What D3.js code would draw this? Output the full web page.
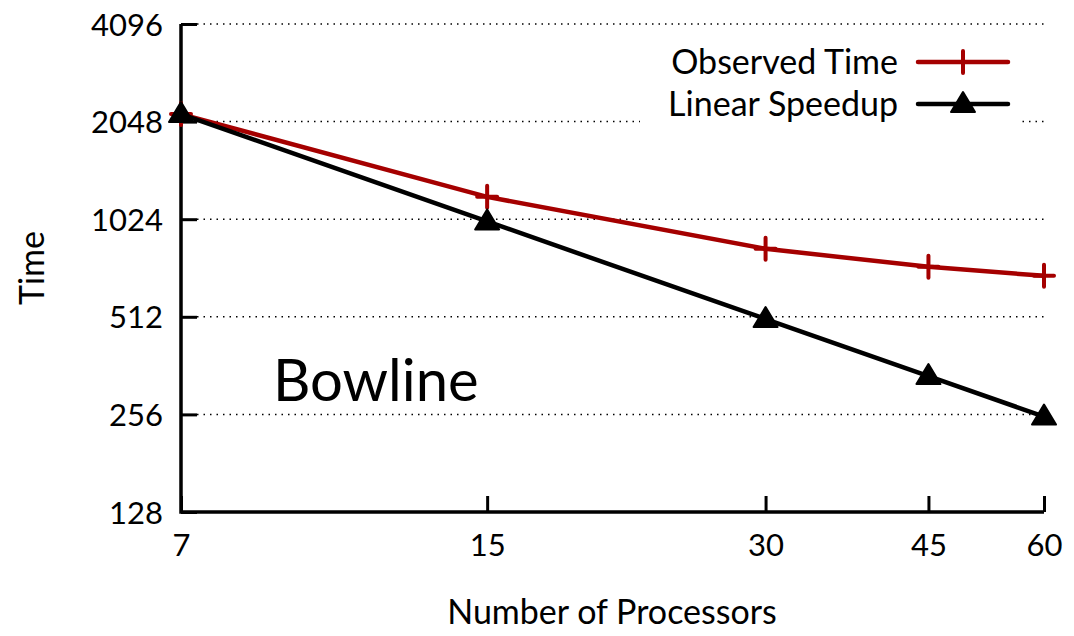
<!DOCTYPE html>
<html>
<head>
<meta charset="utf-8">
<script src="https://cdn.jsdelivr.net/npm/d3@7"></script>
<style>
  body { margin: 0; background: #fff; }
  svg, svg text { font-family: Lato, "Open Sans", sans-serif; }
  svg { display: block; }
</style>
</head>
<body>
<div id="chart"></div>
<script>
// canvas size
let svg_width = 1074;
let svg_height = 636;

// data
let processors = [7, 15, 30, 45, 60];
let observed_time = [2160, 1200, 830, 730, 685];
let linear_speedup = [2160, 1008, 504, 336, 252];
let y_ticks = [128, 256, 512, 1024, 2048, 4096];
let series_names = ["Observed Time", "Linear Speedup"];

let margin = { left: 181, right: 30, top: 24, bottom: 124 };

// scales
let x_scale = d3.scaleLog()
                .domain([7, 60])
                .range([margin.left, svg_width - margin.right]);

let y_scale = d3.scaleLog()
                .base(2)
                .domain([128, 4096])
                .range([svg_height - margin.bottom, margin.top]);

let svg = d3.select('#chart')
            .append('svg')
            .attr('width', svg_width)
            .attr('height', svg_height);

let x0 = x_scale.range()[0], x1 = x_scale.range()[1];
let yb = y_scale.range()[0], yt = y_scale.range()[1];

// dotted grid lines
svg.append('g')
    .selectAll('line')
    .data(y_ticks.filter(d => d > 128))
    .enter()
    .append('line')
    .attr('x1', x0 + 16)
    .attr('x2', x1)
    .attr('y1', d => y_scale(d))
    .attr('y2', d => y_scale(d))
    .attr('stroke', '#000')
    .attr('stroke-width', 1.5)
    .attr('stroke-dasharray', '1.5,5');

// axes with inward ticks
let y_axis = d3.axisLeft(y_scale)
                .tickValues(y_ticks)
                .tickFormat(d3.format('d'))
                .tickSize(-16)
                .tickPadding(18);

let x_axis = d3.axisBottom(x_scale)
                .tickValues(processors)
                .tickFormat(d3.format('d'))
                .tickSize(-16)
                .tickPadding(22);

let gy = svg.append('g')
            .attr('transform', 'translate(' + x0 + ',0)')
            .call(y_axis);

let gx = svg.append('g')
            .attr('transform', 'translate(0,' + yb + ')')
            .call(x_axis);

[gx, gy].forEach(function(g) {
    g.attr('font-family', null);
    g.select('.domain').remove();
    g.selectAll('.tick line').attr('stroke', '#000').attr('stroke-width', 3);
    g.selectAll('.tick text')
        .attr('font-size', 31)
        .attr('fill', '#000');
});
gy.selectAll('.tick text').attr('dy', '0.36em');
gx.selectAll('.tick text').attr('dy', '0.71em');

// L-shaped frame
svg.append('path')
    .attr('d', 'M' + x0 + ',' + yt + 'V' + yb + 'H' + x1)
    .attr('fill', 'none')
    .attr('stroke', '#000')
    .attr('stroke-width', 3.5);

// axis titles
svg.append('text')
    .attr('x', 612)
    .attr('y', 624)
    .attr('text-anchor', 'middle')
    .attr('font-size', 34)
    .text('Number of Processors');

svg.append('text')
    .attr('transform', 'translate(44,' + 268 + ') rotate(-90)')
    .attr('text-anchor', 'middle')
    .attr('font-size', 34)
    .text('Time');

svg.append('text')
    .attr('x', 273)
    .attr('y', 401)
    .attr('font-size', 58)
    .text('Bowline');

// legend background hides grid
svg.append('rect')
    .attr('x', 640)
    .attr('y', 40)
    .attr('width', 382)
    .attr('height', 88)
    .attr('fill', '#fff');

let red = '#a50000';
let line = d3.line()
            .x(d => x_scale(d[0]))
            .y(d => y_scale(d[1]));

let obs_pts = d3.zip(processors, observed_time);
let lin_pts = d3.zip(processors, linear_speedup);

function triangle(g, cx, cy) {
    g.append('path')
        .attr('d', 'M' + cx + ',' + (cy - 12) + 'L' + (cx + 12) + ',' + (cy + 8) + 'L' + (cx - 12) + ',' + (cy + 8) + 'Z')
        .attr('fill', '#000')
        .attr('stroke', '#000')
        .attr('stroke-width', 2)
        .attr('stroke-linejoin', 'round');
}

function cross(g, cx, cy) {
    g.append('path')
        .attr('d', 'M' + (cx - 10) + ',' + cy + 'H' + (cx + 10) + 'M' + cx + ',' + (cy - 11) + 'V' + (cy + 11))
        .attr('stroke', red)
        .attr('stroke-width', 4)
        .attr('stroke-linecap', 'round');
}

// observed time
svg.append('path')
    .datum(obs_pts)
    .attr('d', line)
    .attr('fill', 'none')
    .attr('stroke', red)
    .attr('stroke-width', 4.5);

let gObs = svg.append('g');
obs_pts.forEach(d => cross(gObs, x_scale(d[0]), y_scale(d[1])));

// linear speedup
svg.append('path')
    .datum(lin_pts)
    .attr('d', line)
    .attr('fill', 'none')
    .attr('stroke', '#000')
    .attr('stroke-width', 4.5);

let gLin = svg.append('g');
lin_pts.forEach(d => triangle(gLin, x_scale(d[0]), y_scale(d[1])));

// legend
let legend = svg.append('g');
let leg_y = [62, 104];
series_names.forEach(function(name, i) {
    legend.append('text')
        .attr('x', 898)
        .attr('y', leg_y[i])
        .attr('dy', '0.36em')
        .attr('text-anchor', 'end')
        .attr('font-size', 34)
        .text(name);
    legend.append('line')
        .attr('x1', 918).attr('x2', 1008)
        .attr('y1', leg_y[i]).attr('y2', leg_y[i])
        .attr('stroke', i == 0 ? red : '#000')
        .attr('stroke-width', 4.5)
        .attr('stroke-linecap', 'round');
    if (i == 0) cross(legend, 963, leg_y[i]);
    else triangle(legend, 963, leg_y[i]);
});
</script>
</body>
</html>
